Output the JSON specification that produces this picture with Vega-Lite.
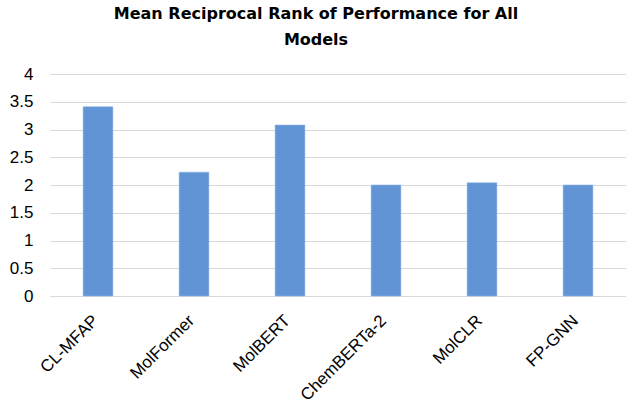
{
  "$schema": "https://vega.github.io/schema/vega-lite/v6.json",
  "width": 576,
  "height": 222,
  "autosize": {"type": "none"},
  "padding": {"left": 50, "top": 74, "right": 0, "bottom": 106},
  "background": "white",
  "title": {
    "text": ["Mean Reciprocal Rank of Performance for All", "Models"],
    "font": "DejaVu Sans",
    "fontSize": 16,
    "fontWeight": "bold",
    "color": "#000000",
    "anchor": "middle",
    "offset": 17,
    "dx": -22,
    "lineHeight": 26
  },
  "data": {
    "values": [
      {"model": "CL-MFAP", "mrr": 3.41},
      {"model": "MolFormer", "mrr": 2.23},
      {"model": "MolBERT", "mrr": 3.08},
      {"model": "ChemBERTa-2", "mrr": 2.0},
      {"model": "MolCLR", "mrr": 2.04},
      {"model": "FP-GNN", "mrr": 2.0}
    ]
  },
  "mark": {"type": "bar", "color": "#6194D5", "stroke": "#8DB3E2", "strokeWidth": 0.6},
  "encoding": {
    "x": {
      "field": "model",
      "type": "nominal",
      "sort": null,
      "scale": {"paddingInner": 0.69, "paddingOuter": 0.345},
      "axis": {
        "title": null,
        "labelAngle": -45,
        "labelFont": "Liberation Sans",
        "labelFontSize": 17,
        "labelColor": "#000000",
        "labelPadding": 16,
        "labelOffset": -8,
        "ticks": false,
        "domainColor": "#d9d9d9",
        "domainWidth": 1
      }
    },
    "y": {
      "field": "mrr",
      "type": "quantitative",
      "scale": {"domain": [0, 4]},
      "axis": {
        "title": null,
        "values": [0, 0.5, 1, 1.5, 2, 2.5, 3, 3.5, 4],
        "format": "~g",
        "labelFont": "Liberation Sans",
        "labelFontSize": 17,
        "labelColor": "#000000",
        "labelPadding": 17,
        "ticks": false,
        "domain": false,
        "grid": true,
        "gridColor": "#d9d9d9",
        "gridWidth": 1
      }
    }
  },
  "config": {"view": {"stroke": null}}
}
